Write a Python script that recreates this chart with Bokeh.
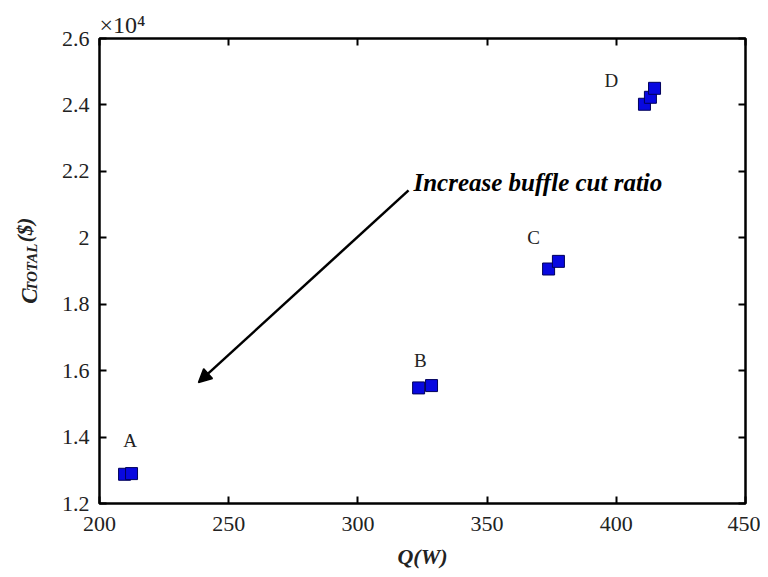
import math
from bokeh.plotting import figure
from bokeh.layouts import row
from bokeh.models import (Range1d, LinearAxis, FixedTicker, Label, Arrow, NormalHead,
                          ColumnDataSource, Title)
from bokeh.core.properties import value
from bokeh.embed import file_html
from bokeh.resources import INLINE

# ---- data ----
q_w = [209.7, 212.4, 323.5, 328.5, 373.8, 377.6, 410.9, 413.2, 414.8]
c_total = [12880, 12900, 15480, 15550, 19060, 19290, 24020, 24230, 24500]

group_names = ["A", "B", "C", "D"]
group_label_q = [211.8, 324.2, 368.0, 398.1]
group_label_c = [13898, 16307, 20012, 24741]

x_ticks = [200, 250, 300, 350, 400, 450]
y_ticks = [12000, 14000, 16000, 18000, 20000, 22000, 24000, 26000]
y_tick_labels = ["1.2", "1.4", "1.6", "1.8", "2", "2.2", "2.4", "2.6"]

arrow_start = (319.6, 21428)
arrow_end = (238.3, 15645)
note_text = "Increase buffle cut ratio"
note_pos = (321.5, 21669)

y_label_parts = ["C", "TOTAL", "($)"]

SERIF = "Liberation Serif"
H = 573
LAB_W = 50

# ---- main plot ----
p = figure(width=760 - LAB_W, height=H, output_backend="svg", toolbar_location=None,
           x_range=Range1d(200, 450), y_range=Range1d(12000, 26000),
           min_border_left=99 - LAB_W, min_border_right=15, min_border_top=38,
           min_border_bottom=70, background_fill_color="white",
           border_fill_color="white")
p.grid.visible = False
p.outline_line_color = "black"
p.outline_line_width = 2.5

def style_axis(ax, show_labels=True):
    ax.axis_line_color = None
    ax.major_tick_in = 7
    ax.major_tick_out = 0
    ax.minor_tick_in = 4
    ax.minor_tick_out = 0
    ax.major_tick_line_width = 2
    ax.minor_tick_line_width = 2
    ax.major_tick_line_color = "black"
    ax.minor_tick_line_color = "black"
    ax.major_label_text_font = SERIF
    if show_labels:
        ax.major_label_text_font_size = "22px"
        ax.major_label_text_color = "#222222"
    else:
        ax.major_label_text_font_size = "0px"
        ax.major_label_text_color = None
        ax.major_label_standoff = 0

xt = FixedTicker(ticks=x_ticks, num_minor_ticks=5)
yt = FixedTicker(ticks=y_ticks, num_minor_ticks=4)

p.xaxis.ticker = xt
p.yaxis.ticker = yt
style_axis(p.xaxis[0])
style_axis(p.yaxis[0])
p.xaxis.major_label_standoff = 13
p.yaxis.major_label_standoff = 10
p.yaxis.major_label_overrides = {t: l for t, l in zip(y_ticks, y_tick_labels)}
p.xaxis.axis_label = "Q(W)"
p.xaxis.axis_label_text_font = SERIF
p.xaxis.axis_label_text_font_style = "bold italic"
p.xaxis.axis_label_text_font_size = "22px"
p.xaxis.axis_label_standoff = 10
p.xaxis.axis_label_text_color = "#222222"

top_ax = LinearAxis(ticker=xt)
style_axis(top_ax, show_labels=False)
p.add_layout(top_ax, "above")
right_ax = LinearAxis(ticker=yt)
style_axis(right_ax, show_labels=False)
p.add_layout(right_ax, "right")

# x10^4 multiplier as a title above the frame
p.add_layout(Title(text="\u00d710\u2074", align="left", text_font=SERIF,
                   text_font_size="24px", text_font_style="normal",
                   text_color="#222222", standoff=1, offset=0), "above")

# points
src = ColumnDataSource(dict(q=q_w, c=c_total))
p.scatter("q", "c", source=src, marker="square", size=12,
          fill_color="#0808e0", line_color="#00005a", line_width=1)

# group letters
lsrc = ColumnDataSource(dict(q=group_label_q, c=group_label_c, t=group_names))
p.text("q", "c", text="t", source=lsrc, text_align="center",
       text_baseline="alphabetic", text_font=value(SERIF),
       text_font_size="19px", text_color="#222222")

# arrow + note
p.add_layout(Arrow(end=NormalHead(size=13, fill_color="black", line_color="black",
                                  line_width=1.5),
                   x_start=arrow_start[0], y_start=arrow_start[1],
                   x_end=arrow_end[0], y_end=arrow_end[1],
                   line_width=2.5, line_color="black"))
p.add_layout(Label(x=note_pos[0], y=note_pos[1], text=note_text,
                   text_font=SERIF, text_font_style="bold italic",
                   text_font_size="25px", text_color="black",
                   text_baseline="alphabetic"))

# ---- narrow strip holding the rotated y-axis label C_TOTAL($) ----
lab = figure(width=LAB_W, height=H, output_backend="svg", toolbar_location=None,
             x_range=Range1d(0, LAB_W), y_range=Range1d(0, H),
             min_border_left=0, min_border_right=0, min_border_top=0,
             min_border_bottom=0, background_fill_color="white",
             border_fill_color="white")
lab.axis.visible = False
lab.grid.visible = False
lab.outline_line_color = None
# layout positions (strip pixels from the left / from the bottom)
part_x = [29, 31, 24]
part_y = [H - 327, H - 311, H - 251]
part_size = ["23px", "15px", "21px"]
for t, x, y, s in zip(y_label_parts, part_x, part_y, part_size):
    lab.text(x=[x], y=[y], text=[t], angle=math.pi / 2, text_align="left",
             text_baseline="alphabetic", text_font=value(SERIF),
             text_font_style="bold italic", text_font_size=s,
             text_color="#222222")

layout = row(lab, p, spacing=0)
open("out.html", "w").write(file_html(layout, INLINE))
